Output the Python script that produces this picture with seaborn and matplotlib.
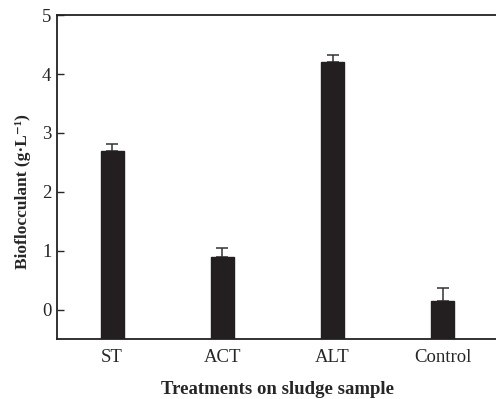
import seaborn as sns
import numpy as np
import pandas as pd
from matplotlib import pyplot as plt

treatments = ['ST', 'ACT', 'ALT', 'Control']
biofloc = [2.70, 0.89, 4.20, 0.15]
errors = [0.12, 0.16, 0.12, 0.21]

df = pd.DataFrame({'treatment': treatments, 'value': biofloc})

sns.set_style("ticks")
plt.rcParams['font.family'] = ['Liberation Serif', 'DejaVu Serif']

fig = plt.figure(figsize=(4.96, 3.99), dpi=100)
# right edge of the frame sits just off the picture, like the cropped original
ax = fig.add_axes([0.115, 0.15, 0.889, 0.812])

bar_color = '#231f20'
sns.barplot(data=df, x='treatment', y='value', color=bar_color,
            saturation=1, width=0.21, errorbar=None, ax=ax, zorder=3)

ymin = -0.5
# bars rise from the bottom of the axis, as in the original
for p, v in zip(ax.patches, biofloc):
    p.set_y(ymin)
    p.set_height(v - ymin)
    p.set_edgecolor(bar_color)

ax.errorbar(np.arange(len(treatments)), biofloc,
            yerr=[np.zeros(len(errors)), errors],
            fmt='none', ecolor='#333333', elinewidth=1.1, capsize=4,
            capthick=1.1, zorder=2)

ax.set_ylim(ymin, 5)
ax.set_xlim(-0.5, 3.5)
ax.set_yticks([0, 1, 2, 3, 4, 5])
ax.tick_params(axis='y', direction='in', length=5, width=1, labelsize=13.5, pad=4)
ax.tick_params(axis='x', direction='in', length=0, labelsize=13.5, pad=7)
for s in ax.spines.values():
    s.set_linewidth(1.3)
    s.set_color('#222222')

ax.set_xlabel('Treatments on sludge sample', fontsize=13.5, fontweight='bold')
ax.xaxis.set_label_coords(0.5, -0.13)
ax.set_ylabel('Bioflocculant (g·L⁻¹)', fontsize=12.5, fontweight='bold')
ax.yaxis.set_label_coords(-0.06, 0.455)

plt.savefig('out.png', dpi=100)
